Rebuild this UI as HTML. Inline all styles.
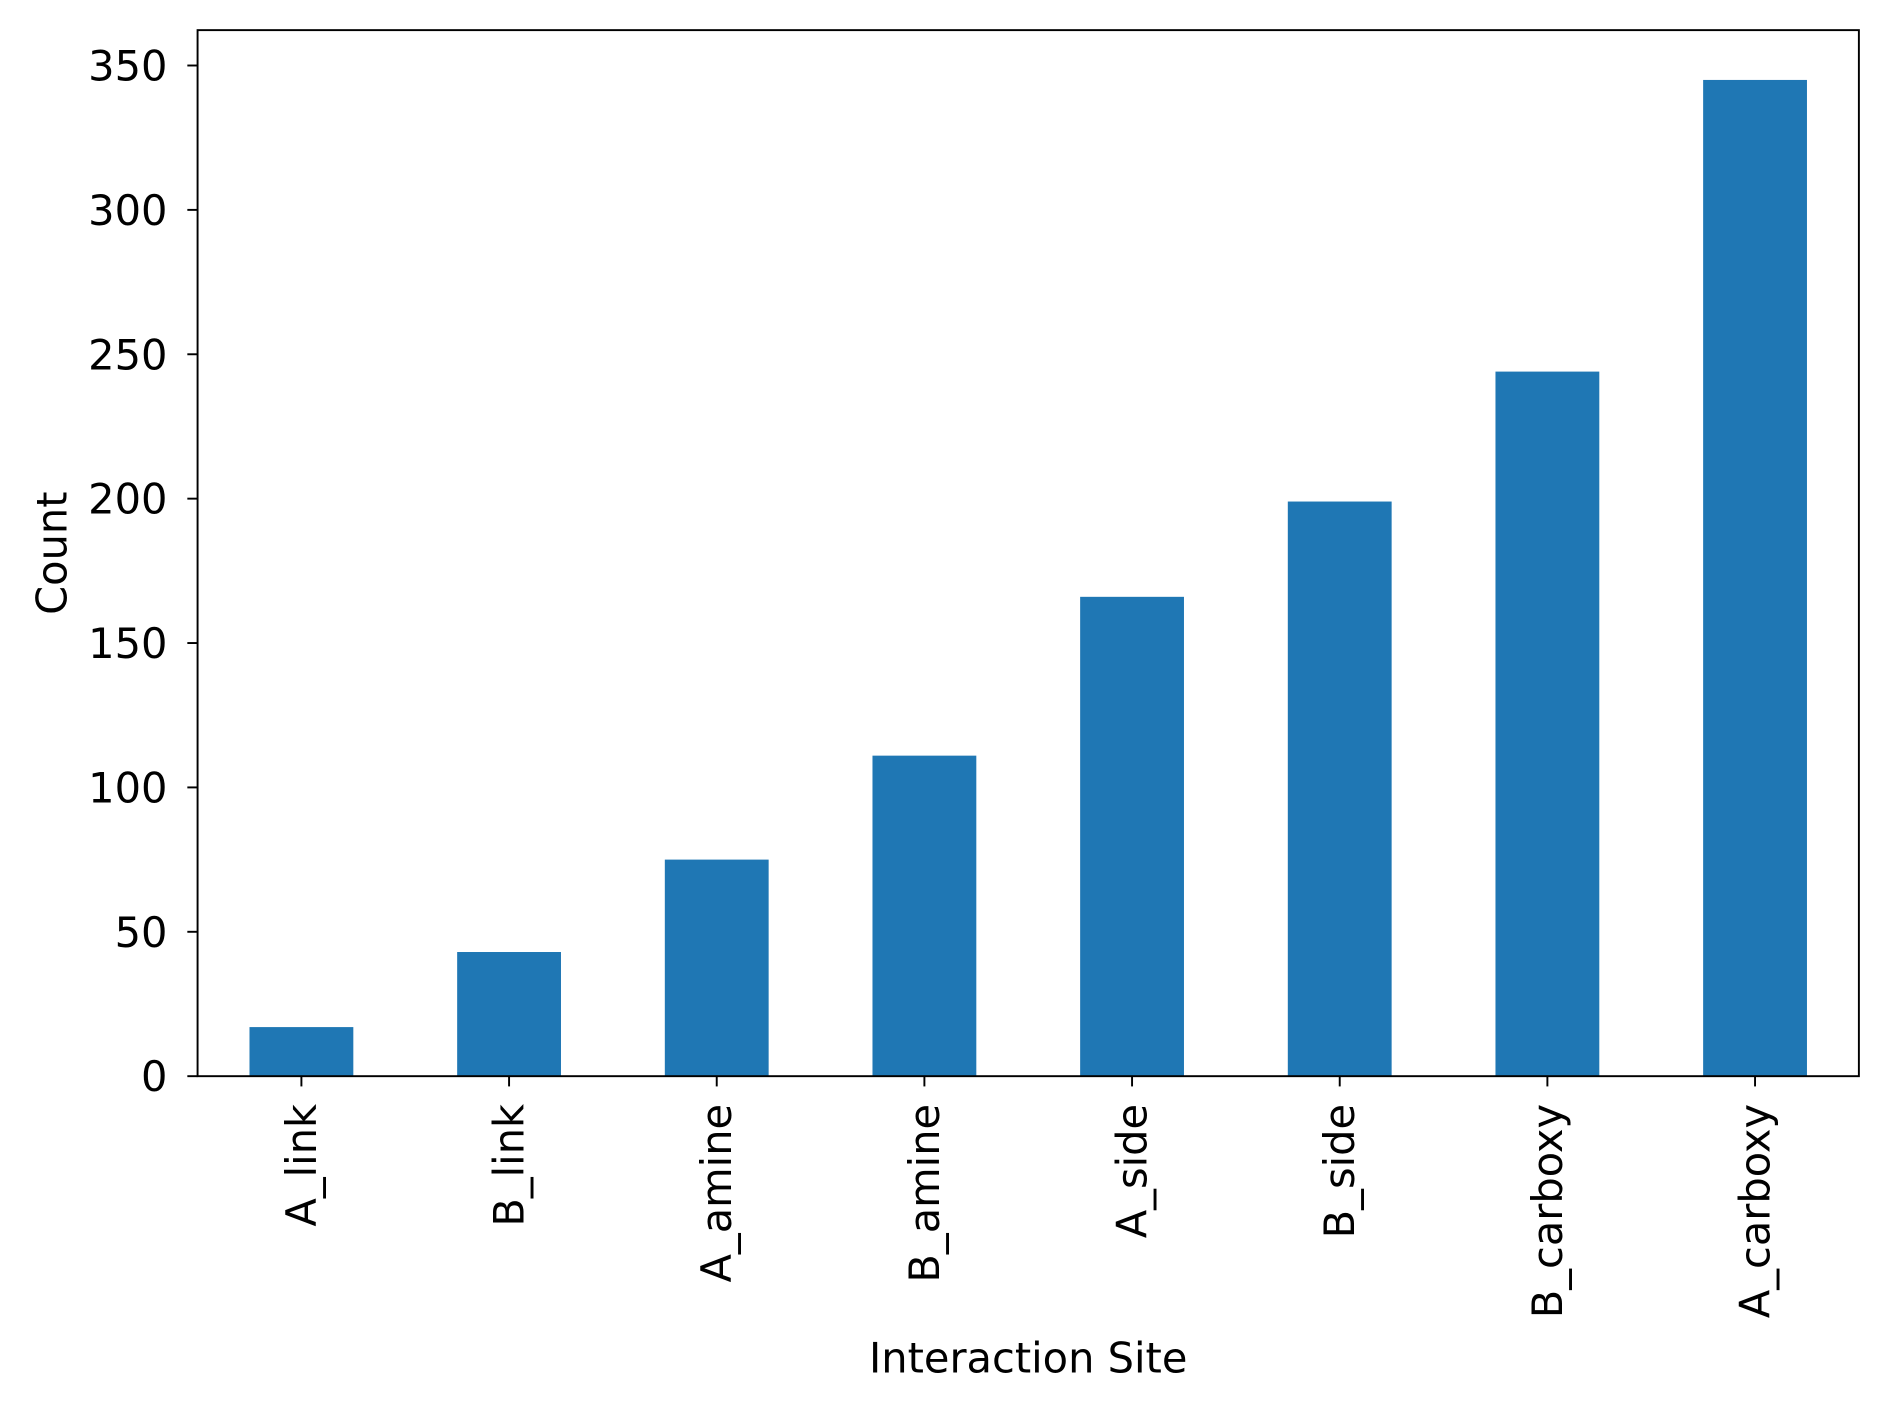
<!DOCTYPE html>
<html><head><meta charset="utf-8"><style>
html,body{margin:0;padding:0;background:#fff;}
svg{display:block;}
text{font-family:"DejaVu Sans","Liberation Sans",sans-serif;fill:#000;}
</style></head><body>
<svg id="chart" width="1889" height="1410" viewBox="0 0 1568 1170" preserveAspectRatio="none" xmlns="http://www.w3.org/2000/svg">
<g id="bars"></g>
<g id="axes"></g>
</svg>
<script>
const categories = ["A_link","B_link","A_amine","B_amine","A_side","B_side","B_carboxy","A_carboxy"];
const counts = [17,43,75,111,166,199,244,345];
const yTicks = [0,50,100,150,200,250,300,350];

const L=164,R=1543,T=25,B=893;
const yMax=362.25;
const FS=34.5;
const NS="http://www.w3.org/2000/svg";
function yScale(v){return B-(v/yMax)*(B-T);}
function xScale(i){return L+(i+0.5)*(R-L)/categories.length;}
const bw=0.5*(R-L)/categories.length;
function mk(tag,attrs,parent,txt){const e=document.createElementNS(NS,tag);for(const k in attrs)e.setAttribute(k,attrs[k]);if(txt!==undefined)e.textContent=txt;parent.appendChild(e);return e;}
const bars=document.getElementById('bars'),axes=document.getElementById('axes');
categories.forEach((c,i)=>{
  const r=mk('rect',{x:xScale(i)-bw/2,y:yScale(counts[i]),width:bw,height:B-yScale(counts[i]),fill:'#1f77b4'},bars);
  
  
  const t=mk('line',{x1:xScale(i),x2:xScale(i),y1:B,y2:B+8.5,stroke:'#000','stroke-width':1.6},axes);
  
  
  const lb=mk('text',{x:0,y:0,'font-size':FS,'text-anchor':'end',transform:`translate(${xScale(i)+12},${B+23}) rotate(-90)`},axes,c);
  
  
});
yTicks.forEach(v=>{
  const t=mk('line',{x1:L-8.5,x2:L,y1:yScale(v),y2:yScale(v),stroke:'#000','stroke-width':1.6},axes);
  
  
  const lb=mk('text',{x:L-25,y:yScale(v)+12.5,'font-size':FS,'text-anchor':'end'},axes,String(v));
  
  
});
const fr=mk('rect',{x:L,y:T,width:R-L,height:B-T,fill:'none',stroke:'#000','stroke-width':1.6},axes);


const yl=mk('text',{x:0,y:0,'font-size':FS,'text-anchor':'middle',transform:`translate(55,${(T+B)/2}) rotate(-90)`},axes,'Count');


const xl=mk('text',{x:(L+R)/2,y:1139,'font-size':FS,'text-anchor':'middle'},axes,'Interaction Site');


</script>
</body></html>
